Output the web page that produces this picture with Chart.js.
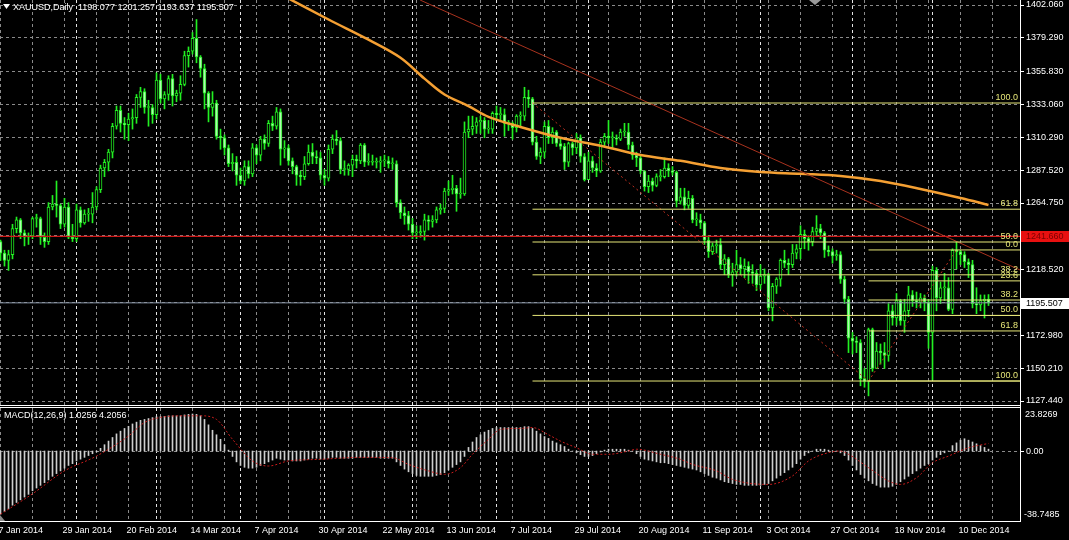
<!DOCTYPE html>
<html><head><meta charset="utf-8"><title>XAUUSD Daily</title>
<script src="https://cdn.jsdelivr.net/npm/chart.js@4.4.1/dist/chart.umd.min.js"></script>
<style>
html,body{margin:0;padding:0;background:#000;overflow:hidden}
#wrap{position:relative;width:1069px;height:540px;background:#000}
canvas{position:absolute;left:0}
#main{top:0}
#macd{top:406px}
</style></head><body>
<div id="wrap"><canvas id="main" width="1069" height="406" style="width:1069px;height:406px"></canvas><canvas id="macd" width="1069" height="134" style="width:1069px;height:134px"></canvas></div>
<script>
// ---------------- DATA ----------------
const symbolTitle = 'XAUUSD,Daily  1198.077 1201.257 1193.637 1195.507';
const macdTitle = 'MACD(12,26,9) 1.0256 4.2056';
const tickLabels = ['7 Jan 2014','29 Jan 2014','20 Feb 2014','14 Mar 2014','7 Apr 2014','30 Apr 2014','22 May 2014','13 Jun 2014','7 Jul 2014','29 Jul 2014','20 Aug 2014','11 Sep 2014','3 Oct 2014','27 Oct 2014','18 Nov 2014','10 Dec 2014'];
const tickLabelBars = [0,16,32,48,64,80,96,112,128,144,160,176,192,208,224,240];
const monthSepBars = [19,39,60,81,103,124,147,168,190,213,233];
const priceTicks = [1402.060,1379.290,1355.830,1333.060,1310.290,1287.520,1264.750,1241.980,1218.520,1195.750,1172.980,1150.210,1127.440];
const hiddenPriceTicks = [1241.980,1195.750];
const macdTicks = [23.8269, 0, -38.7485];

const openP = [
1238,1230,1225,1229,1247,1253,1244,1241,1242,1254,
1254,1241,1238,1262,1264,1263,1250,1262,1241,1240,
1260,1251,1257,1257,1262,1274,1289,1293,1300,1318,
1329,1320,1319,1323,1324,1338,1342,1331,1331,1326,
1350,1337,1340,1351,1339,1341,1347,1367,1370,1379,
1366,1358,1341,1331,1334,1311,1310,1303,1292,1293,
1284,1280,1290,1285,1303,1298,1309,1306,1320,1318,
1328,1302,1303,1294,1290,1284,1283,1292,1300,1297,
1296,1284,1282,1302,1309,1308,1288,1288,1291,1295,
1294,1305,1293,1293,1293,1293,1294,1294,1292,1292,
1265,1258,1256,1250,1244,1244,1245,1253,1252,1253,
1260,1261,1273,1274,1275,1271,1271,1314,1316,1318,
1321,1322,1316,1316,1327,1326,1326,1320,1320,1317,
1325,1325,1338,1337,1307,1297,1300,1318,1310,1314,
1306,1304,1293,1306,1303,1310,1297,1281,1294,1289,
1287,1307,1311,1310,1310,1309,1314,1314,1305,1298,
1296,1287,1276,1280,1277,1283,1283,1289,1287,1286,
1266,1269,1263,1268,1253,1253,1251,1239,1231,1235,
1236,1222,1226,1215,1217,1222,1219,1221,1217,1216,
1208,1214,1215,1192,1207,1212,1225,1223,1222,1230,
1233,1243,1240,1238,1245,1247,1244,1232,1231,1228,
1229,1212,1198,1171,1169,1168,1143,1141,1177,1150,
1162,1161,1159,1190,1185,1197,1183,1190,1201,1197,
1196,1199,1196,1175,1218,1199,1206,1206,1191,1232,
1231,1229,1224,1222,1195,1194,1197,1198.077];
const highP = [
1239,1232,1232,1250,1255,1254,1246,1244,1255,1257,
1255,1244,1265,1270,1280,1264,1268,1265,1250,1264,
1262,1260,1261,1272,1276,1291,1295,1302,1320,1332,
1332,1324,1327,1330,1340,1345,1344,1336,1333,1355,
1354,1342,1353,1354,1343,1353,1370,1373,1383,1392,
1367,1361,1342,1342,1336,1316,1312,1305,1299,1297,
1289,1294,1294,1306,1305,1311,1312,1322,1325,1331,
1330,1308,1305,1296,1291,1287,1297,1305,1306,1301,
1300,1288,1305,1312,1315,1310,1294,1292,1298,1298,
1306,1306,1299,1298,1296,1297,1298,1297,1296,1294,
1267,1262,1259,1254,1249,1249,1257,1256,1256,1262,
1264,1275,1280,1284,1277,1282,1321,1325,1325,1324,
1325,1324,1322,1328,1332,1331,1330,1322,1321,1326,
1328,1345,1343,1338,1311,1303,1321,1322,1317,1315,
1310,1306,1307,1307,1313,1312,1299,1300,1297,1292,
1309,1313,1322,1314,1312,1316,1320,1320,1307,1300,
1298,1287,1284,1282,1285,1288,1296,1292,1290,1287,
1275,1275,1273,1270,1258,1257,1252,1242,1237,1239,
1240,1229,1227,1223,1232,1227,1226,1224,1222,1218,
1222,1219,1216,1209,1213,1226,1232,1226,1236,1236,
1249,1246,1242,1248,1256,1250,1245,1235,1233,1232,
1231,1214,1200,1175,1172,1170,1150,1178,1178,1168,
1167,1168,1195,1194,1202,1198,1198,1207,1204,1203,
1202,1201,1198,1221,1220,1210,1216,1213,1233,1238,
1232,1231,1226,1225,1206,1201,1201,1201.257];
const lowP = [
1225,1221,1218,1226,1244,1240,1235,1236,1240,1248,
1236,1234,1236,1260,1255,1247,1248,1240,1238,1238,
1248,1250,1252,1251,1260,1272,1283,1287,1296,1316,
1314,1309,1308,1316,1320,1331,1327,1318,1320,1323,
1334,1330,1336,1332,1335,1336,1346,1359,1368,1362,
1352,1330,1321,1325,1309,1302,1298,1290,1287,1277,
1278,1277,1282,1283,1292,1294,1302,1304,1315,1316,
1291,1296,1291,1285,1277,1277,1281,1291,1292,1292,
1281,1277,1280,1299,1305,1285,1284,1284,1283,1289,
1292,1290,1291,1291,1289,1286,1290,1289,1288,1262,
1254,1250,1246,1240,1240,1241,1239,1246,1248,1251,
1257,1258,1270,1271,1259,1268,1270,1310,1312,1313,
1313,1310,1313,1313,1322,1322,1311,1315,1309,1314,
1317,1322,1331,1305,1295,1292,1296,1306,1306,1304,
1302,1288,1290,1298,1299,1293,1280,1281,1286,1283,
1286,1304,1306,1303,1305,1308,1311,1302,1295,1290,
1285,1273,1272,1273,1276,1280,1282,1283,1284,1262,
1264,1260,1261,1251,1249,1247,1236,1227,1229,1230,
1219,1215,1213,1207,1214,1215,1213,1209,1209,1204,
1205,1209,1190,1183,1202,1207,1220,1215,1220,1226,
1226,1233,1232,1235,1242,1240,1227,1228,1223,1225,
1209,1195,1161,1160,1161,1138,1137,1131,1148,1150,
1153,1150,1155,1180,1180,1180,1175,1186,1193,1192,
1192,1190,1164,1142,1190,1195,1197,1190,1188,1219,
1222,1220,1213,1192,1188,1190,1185,1193.637];
const closeP = [
1230,1225,1229,1247,1253,1244,1241,1242,1254,1254,
1241,1238,1262,1264,1263,1250,1262,1241,1240,1260,
1251,1257,1257,1262,1274,1289,1293,1300,1318,1329,
1320,1319,1323,1324,1338,1342,1331,1331,1326,1350,
1337,1340,1351,1339,1341,1347,1367,1370,1379,1366,
1358,1341,1331,1334,1311,1310,1303,1292,1293,1284,
1280,1290,1285,1303,1298,1309,1306,1320,1318,1328,
1302,1303,1294,1290,1284,1283,1292,1300,1297,1296,
1284,1282,1302,1309,1308,1288,1288,1291,1295,1294,
1305,1293,1293,1293,1293,1294,1294,1292,1292,1265,
1258,1256,1250,1244,1244,1245,1253,1252,1253,1260,
1261,1273,1274,1275,1271,1271,1314,1316,1318,1321,
1322,1316,1316,1327,1326,1326,1320,1320,1317,1325,
1325,1338,1337,1307,1297,1300,1318,1310,1314,1306,
1304,1293,1306,1303,1310,1297,1281,1294,1289,1287,
1307,1311,1310,1310,1309,1314,1314,1305,1298,1296,
1287,1276,1280,1277,1283,1283,1289,1287,1286,1266,
1269,1263,1268,1253,1253,1251,1239,1231,1235,1236,
1222,1226,1215,1217,1222,1219,1221,1217,1216,1208,
1214,1215,1192,1207,1212,1225,1223,1222,1230,1233,
1243,1240,1238,1245,1247,1244,1232,1231,1228,1229,
1212,1198,1171,1169,1168,1143,1141,1177,1150,1162,
1161,1159,1190,1185,1197,1183,1190,1201,1197,1196,
1199,1196,1175,1218,1199,1206,1206,1191,1232,1231,
1229,1224,1222,1195,1194,1197,1198,1195.507];

// moving average (bar index, value)
const maBars   = [70,82,92,100,106,111,117,122,130,140,150,160,170,180,190,200,210,220,230,240,247];
const maValues = [1409.5,1392,1378,1365.5,1351,1340,1332,1324.5,1317.5,1310,1304.5,1298,1294,1289,1286.3,1285,1283.5,1280,1274.5,1268.2,1263.4];

// descending trend line (bar, price)
const trendBars = [104.9, 254.875];
const trendValues = [1405.5, 1218.3];

// horizontal lines
const resistanceLevel = 1241.660;
const bidLevel = 1195.507;

// fibonacci retracements
const fibLevels = [0, 23.6, 38.2, 50.0, 61.8, 100.0];
const fibA = { startBar: 133, endBar: 217, price0: 1141.3, price100: 1334.1 };
const fibB = { startBar: 217, endBar: 239, price0: 1232.2, price100: 1141.3 };
const fibALabelLevels = [100.0, 61.8, 50.0, 38.2];
const fibBLabelLevels = [0, 23.6, 38.2, 50.0, 61.8, 100.0];

// MACD main (histogram), one per bar
const macdMain = [
-35,-33.5,-32,-30,-28.5,-27,-25.5,-24,-22,
-20.5,-19,-17.5,-16,-14,-12.5,-11,-9.5,
-8,-7,-5.5,-4.5,-3.5,-2.5,-1.5,-0.5,
1.5,3.5,5.5,7.5,9.5,11,12.5,13.7,
15,16,17,17.5,18,18.5,19,19,
19.2,19.5,19.5,19.5,19.5,20,20.3,20.5,
20.3,19.5,17.5,14.5,11.5,9,6.5,3.5,0.5,
-3,-6,-8,-9,-9.5,-9.5,-9,-8,-7,-6,
-5,-4,-4.5,-5,-5,-5.5,-5.5,-5.5,-5,-4.5,-4,-4,-4.5,
-4.5,-4,-3.5,-3.5,-4,-4,-4,-4,-3.5,-3.5,
-3.5,-3.5,-3.5,-3.5,-4,-4,-4,-4,-6,-8,
-10,-11.5,-12.5,-13.5,-14,-14,-14,-14,-13.5,-13,
-12,-10.5,-9,-7.5,-6,-3,2,5,7.5,9,
10.5,11.5,12.5,13,13,13,13,13,13,13,
13.5,13.5,12.5,11,9.5,8,7,5.5,4.5,3.5,
2.5,1,0,-1,-2,-3,-3,-2.5,-1.5,-0.5,
0.5,1,1,1,1,1,0.5,0,-1.5,-3,
-4.5,-5,-5.5,-6,-6.5,-6.5,-7,-7.5,-8,-8.5,
-9,-9.5,-10,-10.5,-11.5,-12.5,-13.5,-14.5,-15,-16,
-17,-17.5,-18,-18.5,-18.5,-19,-19,-19,-19,-19,
-18.5,-18,-16.5,-15,-13.5,-12,-10.5,-9,-7,-4.5,
-2.5,-1,0,1,1,1,0.5,0,0,-1,
-2.5,-5,-8,-10.5,-13,-15,-16.5,-18,-19,-20,
-20,-20,-19.5,-18.5,-17,-15.5,-14,-12.5,-11,-9.5,
-8,-7,-5,-3.5,-2,-1,0,3,4.5,6,
6.8,6,5,4,3,2,1.0256];

// MACD signal read at these bars
const sigBars = [0,8,16,24,32,36,40,46,50,54,58,63,67,72,80,90,98,102,107,111,115,118,122,125,130,133,137,140,144,148,152,157,159,165,170,173,179,183,192,198,202,207,210,212,217,222,225,229,233,237,242,247];
const sigValues = [-35,-23.7,-11,-2.8,8.3,15.8,18.6,19.5,19.5,17.5,6.5,-5.5,-8.3,-5.5,-4.6,-3.5,-3.7,-7.4,-11,-12.9,-9.2,-1.8,6.5,12,12.5,13,9,5.5,1.8,-1.8,-1.8,0,1,-1.8,-4.6,-7.4,-11,-15.7,-18.5,-13.8,-5.5,-0.9,0,-1.8,-9.2,-16.6,-18.5,-14.8,-6.5,-2.8,1.8,4.2056];

// ---------------- STYLE ----------------
const FONT = '"Liberation Sans", Arial, sans-serif';
const GRID = '#8a8a8a';
const SEP = '#e4e4e4';
const FRAME = '#ffffff';
const CANDLE_LINE = '#22f022';
const BULL_FILL = '#000000';
const BEAR_FILL = '#b0f8b0';
const MA_COLOR = '#f5a033';
const FIB_COLOR = '#e6e678';
const TREND_COLOR = '#a8321e';
const FIBLINK_COLOR = '#c03020';
const RES_COLOR = '#d01818';
const BID_COLOR = '#8a96a8';
const HIST_COLOR = '#cfcfcf';
const SIG_COLOR = '#c81c1c';
const X_MIN = -0.125, X_MAX = 254.875;

Chart.defaults.font.family = FONT;
Chart.defaults.font.size = 9;
Chart.defaults.color = '#ffffff';
Chart.defaults.animation = false;

const gridBars = [];
for (let b = 0; b <= 248; b += 8) gridBars.push(b);

function xAxis() {
  return {
    type: 'linear', min: X_MIN, max: X_MAX, offset: false,
    afterBuildTicks: s => { s.ticks = gridBars.map(v => ({ value: v })); },
    ticks: { display: false },
    grid: { color: GRID, drawTicks: false, lineWidth: 1, offset: false },
    border: { display: false, dash: [3, 3] }
  };
}
function fibPrice(f, lvl) { return f.price0 + (f.price100 - f.price0) * lvl / 100; }
function hLine(price, startBar, color, width, dash) {
  return { type: 'line', data: [{ x: startBar, y: price }, { x: X_MAX, y: price }],
    borderColor: color, borderWidth: width, borderDash: dash || [], pointRadius: 0, order: 1 };
}
function drawSeparators(chart) {
  const { ctx, chartArea: a, scales: { x } } = chart;
  ctx.save();
  ctx.strokeStyle = SEP; ctx.lineWidth = 1; ctx.setLineDash([3, 3]);
  ctx.beginPath();
  monthSepBars.forEach(b => {
    const px = Math.floor(x.getPixelForValue(b)) + 0.5;
    ctx.moveTo(px, a.top); ctx.lineTo(px, a.bottom);
  });
  ctx.stroke();
  ctx.restore();
}

const idx = closeP.map((_, i) => i);

// ---------------- MAIN CHART ----------------
const mainDatasets = [
  { type: 'bar', label: 'wicks', data: idx.map(i => ({ x: i, y: [lowP[i], highP[i]] })),
    backgroundColor: CANDLE_LINE, borderWidth: 0, barThickness: 1, grouped: false, order: 6 },
  { type: 'bar', label: 'bodies', data: idx.map(i => ({ x: i, y: [openP[i], closeP[i]] })),
    backgroundColor: idx.map(i => closeP[i] >= openP[i] ? BULL_FILL : BEAR_FILL),
    borderColor: CANDLE_LINE, borderWidth: 1, borderSkipped: false, barThickness: 3,
    grouped: false, minBarLength: 1, order: 5 },
  { type: 'line', label: 'MA', data: maBars.map((b, k) => ({ x: b, y: maValues[k] })),
    borderColor: MA_COLOR, borderWidth: 2.5, pointRadius: 0, tension: 0.35, order: 4 },
  { type: 'line', label: 'trend', data: trendBars.map((b, k) => ({ x: b, y: trendValues[k] })),
    borderColor: TREND_COLOR, borderWidth: 1, pointRadius: 0, order: 3 },
  { type: 'line', label: 'fibA link', data: [{ x: fibA.startBar, y: fibA.price100 }, { x: fibA.endBar, y: fibA.price0 }],
    borderColor: FIBLINK_COLOR, borderWidth: 1, borderDash: [2, 3], pointRadius: 0, order: 3 },
  { type: 'line', label: 'fibB link', data: [{ x: fibB.startBar, y: fibB.price100 }, { x: fibB.endBar, y: fibB.price0 }],
    borderColor: FIBLINK_COLOR, borderWidth: 1, borderDash: [2, 3], pointRadius: 0, order: 3 }
];
fibLevels.forEach(l => mainDatasets.push(hLine(fibPrice(fibA, l), fibA.startBar, FIB_COLOR, 1)));
fibLevels.forEach(l => mainDatasets.push(hLine(fibPrice(fibB, l), fibB.startBar, FIB_COLOR, 1)));
mainDatasets.push(hLine(resistanceLevel, X_MIN, RES_COLOR, 1.2));
mainDatasets.push(hLine(bidLevel, X_MIN, BID_COLOR, 1));

const mainPlugin = {
  id: 'mainDeco',
  beforeDatasetsDraw(chart) { drawSeparators(chart); },
  afterDatasetsDraw(chart) {
    const { ctx, chartArea: a, scales: { y } } = chart;
    ctx.save();
    ctx.font = '9px ' + FONT; ctx.fillStyle = FIB_COLOR;
    ctx.textAlign = 'right'; ctx.textBaseline = 'bottom';
    fibALabelLevels.forEach(l => ctx.fillText(l.toFixed(1), a.right - 2, y.getPixelForValue(fibPrice(fibA, l)) - 1));
    fibBLabelLevels.forEach(l => ctx.fillText(l.toFixed(1), a.right - 2, y.getPixelForValue(fibPrice(fibB, l)) - 1));
    ctx.restore();
  },
  afterDraw(chart) {
    const { ctx, chartArea: a, scales: { y } } = chart;
    ctx.save();
    ctx.setLineDash([]);
    ctx.strokeStyle = FRAME; ctx.lineWidth = 1;
    ctx.beginPath();
    ctx.moveTo(a.right + 0.5, 0); ctx.lineTo(a.right + 0.5, a.bottom + 1);
    ctx.moveTo(0, a.bottom + 0.5); ctx.lineTo(a.right + 1, a.bottom + 0.5);
    ctx.stroke();
    // price boxes
    const box = (price, bg, fg) => {
      const py = y.getPixelForValue(price);
      ctx.fillStyle = bg; ctx.fillRect(a.right + 1, Math.round(py) - 5, chart.width - a.right - 1, 11);
      ctx.fillStyle = fg; ctx.font = '9px ' + FONT; ctx.textAlign = 'left'; ctx.textBaseline = 'middle';
      ctx.fillText(price.toFixed(3), a.right + 6, Math.round(py) + 0.5);
    };
    box(resistanceLevel, '#e81010', '#7a0000');
    box(bidLevel, '#ffffff', '#000000');
    // title
    ctx.fillStyle = '#ffffff';
    ctx.beginPath(); ctx.moveTo(3, 4); ctx.lineTo(10, 4); ctx.lineTo(6.5, 9); ctx.closePath(); ctx.fill();
    ctx.font = '9px ' + FONT; ctx.textAlign = 'left'; ctx.textBaseline = 'middle';
    ctx.fillText(symbolTitle, 13, 7.5);
    // small object marker at top
    ctx.fillStyle = '#9a9a9a';
    ctx.beginPath(); ctx.moveTo(809, 0); ctx.lineTo(821, 0); ctx.lineTo(815, 5); ctx.closePath(); ctx.fill();
    ctx.restore();
  }
};

new Chart(document.getElementById('main'), {
  type: 'bar',
  data: { datasets: mainDatasets },
  options: {
    responsive: false, animation: false, devicePixelRatio: 1,
    layout: { padding: { left: 0, top: 0, right: 0, bottom: 1 } },
    plugins: { legend: { display: false }, tooltip: { enabled: false } },
    events: [],
    scales: {
      x: xAxis(),
      y: {
        position: 'right', min: 1124.67, max: 1405.53, beginAtZero: false,
        afterBuildTicks: s => { s.ticks = priceTicks.map(v => ({ value: v })); },
        afterFit: s => { s.width = 49; s.paddingTop = 0; s.paddingBottom = 0; },
        ticks: { color: '#ffffff', padding: 2, autoSkip: false, font: { size: 9, family: FONT },
          callback: v => hiddenPriceTicks.some(h => Math.abs(h - v) < 1e-6) ? '' : Number(v).toFixed(3) },
        grid: { color: GRID, drawTicks: true, tickLength: 4, tickColor: '#ffffff', lineWidth: 1 },
        border: { display: false, dash: [3, 3] }
      }
    }
  },
  plugins: [mainPlugin]
});

// ---------------- MACD CHART ----------------
const macdPlugin = {
  id: 'macdDeco',
  beforeDatasetsDraw(chart) {
    const { ctx, chartArea: a, scales: { y } } = chart;
    drawSeparators(chart);
    ctx.save();
    ctx.strokeStyle = GRID; ctx.lineWidth = 1; ctx.setLineDash([3, 3]);
    const zy = Math.floor(y.getPixelForValue(0)) + 0.5;
    ctx.beginPath(); ctx.moveTo(a.left, zy); ctx.lineTo(a.right, zy); ctx.stroke();
    ctx.restore();
  },
  afterDraw(chart) {
    const { ctx, chartArea: a, scales: { x, y } } = chart;
    ctx.save();
    ctx.setLineDash([]);
    ctx.strokeStyle = FRAME; ctx.lineWidth = 1;
    ctx.beginPath();
    ctx.moveTo(0, a.top - 0.5); ctx.lineTo(a.right + 1, a.top - 0.5);
    ctx.moveTo(a.right + 0.5, 0); ctx.lineTo(a.right + 0.5, a.bottom + 1);
    ctx.moveTo(0, a.bottom + 0.5); ctx.lineTo(a.right + 1, a.bottom + 0.5);
    const zy = Math.floor(y.getPixelForValue(0)) + 0.5;
    ctx.moveTo(a.right + 1, zy); ctx.lineTo(a.right + 4, zy);
    ctx.stroke();
    ctx.fillStyle = '#ffffff'; ctx.font = '9px ' + FONT; ctx.textBaseline = 'middle'; ctx.textAlign = 'left';
    ctx.fillText(macdTitle, 4, a.top + 8);
    ctx.fillText(macdTicks[0].toFixed(4), a.right + 5, a.top + 7);
    ctx.fillText(macdTicks[1].toFixed(2), a.right + 6, zy);
    ctx.fillText(macdTicks[2].toFixed(4), a.right + 4, a.bottom - 6);
    tickLabelBars.forEach((b, k) => {
      ctx.fillText(tickLabels[k], x.getPixelForValue(b) - 2, a.bottom + 9.5);
    });
    ctx.fillStyle = '#8a8a8a';
    ctx.beginPath(); ctx.moveTo(0, a.bottom - 6); ctx.lineTo(5, a.bottom); ctx.lineTo(0, a.bottom); ctx.closePath(); ctx.fill();
    ctx.restore();
  }
};

new Chart(document.getElementById('macd'), {
  type: 'bar',
  data: { datasets: [
    { type: 'bar', label: 'MACD', data: idx.map(i => ({ x: i, y: macdMain[i] })),
      backgroundColor: HIST_COLOR, borderWidth: 0, barThickness: 1, grouped: false, order: 2 },
    { type: 'line', label: 'Signal', data: sigBars.map((b, k) => ({ x: b, y: sigValues[k] })),
      borderColor: SIG_COLOR, borderWidth: 1, borderDash: [2, 2], pointRadius: 0,
      cubicInterpolationMode: 'monotone', order: 1 }
  ] },
  options: {
    responsive: false, animation: false, devicePixelRatio: 1,
    layout: { padding: { left: 0, top: 2, right: 49, bottom: 19 } },
    plugins: { legend: { display: false }, tooltip: { enabled: false } },
    events: [],
    scales: {
      x: xAxis(),
      y: { display: false, min: macdTicks[2], max: macdTicks[0], beginAtZero: false }
    }
  },
  plugins: [macdPlugin]
});
</script></body></html>
